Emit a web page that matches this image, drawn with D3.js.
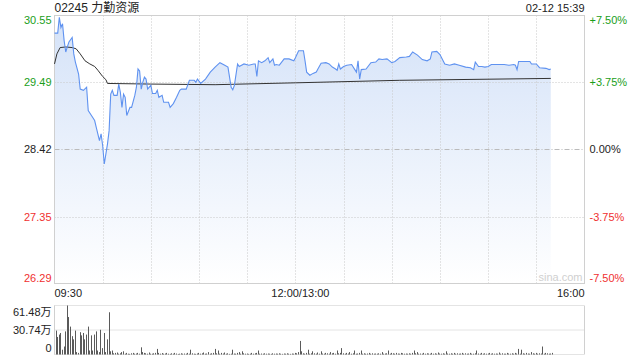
<!DOCTYPE html>
<html>
<head>
<meta charset="utf-8">
<script src="https://cdn.jsdelivr.net/npm/d3@7"></script>
<style>
  body { margin: 0; background: #fff; }
  svg { display: block; font-family: "Liberation Sans", Arial, "Noto Sans CJK SC", sans-serif; }
</style>
</head>
<body>
<div id="chart"></div>
<script>
const title = '02245 力勤资源';
const stamp = '02-12 15:39';
const prevClose = 28.42;
const priceTicks = [30.55, 29.49, 28.42, 27.35, 26.29];
const pctLabels = ['+7.50%', '+3.75%', '0.00%', '-3.75%', '-7.50%'];
const timeLabels = [[0, '09:30'], [150, '12:00/13:00'], [330, '16:00']];
const volTicks = [[61.48, '61.48万'], [30.74, '30.74万'], [0, '0']];

// [trading minute since 09:30, price]
const price = [
  [0, 30.27], [2, 30.27], [3, 30.52], [4, 30.36], [5, 30.42], [6, 30.15], [7, 29.97], [8, 30.05],
  [9, 30.13], [11, 30.20], [12, 29.94], [13, 29.81], [15, 29.62], [16, 29.38], [18, 29.36], [20, 29.41],
  [21, 29.04], [23, 28.96], [25, 28.88], [26, 28.77], [28, 28.56], [29, 28.67], [30, 28.48], [31, 28.19],
  [33, 28.51], [34, 28.72], [35, 29.30], [36, 29.36], [37, 29.28], [39, 29.28], [40, 29.46], [41, 29.33],
  [42, 29.09], [43, 29.30], [44, 29.25], [45, 28.96], [47, 29.09], [48, 29.09], [50, 29.28], [51, 29.41],
  [52, 29.70], [53, 29.67], [54, 29.38], [55, 29.49], [56, 29.57], [57, 29.54], [58, 29.38], [60, 29.44],
  [61, 29.31], [63, 29.31], [64, 29.36], [65, 29.25], [67, 29.28], [68, 29.17], [71, 29.17], [72, 29.09],
  [74, 29.15], [76, 29.25], [78, 29.36], [79, 29.38], [82, 29.38], [84, 29.52], [87, 29.52], [88, 29.49],
  [89, 29.54], [91, 29.47], [94, 29.54], [97, 29.65], [100, 29.73], [103, 29.80], [106, 29.76], [108, 29.73],
  [110, 29.41], [111, 29.37], [112, 29.44], [114, 29.78], [115, 29.74], [118, 29.78], [121, 29.76], [124, 29.78],
  [125, 29.78], [126, 29.58], [127, 29.83], [129, 29.80], [131, 29.83], [133, 29.88], [134, 29.80], [136, 29.86],
  [137, 29.76], [138, 29.77], [140, 29.76], [143, 29.86], [146, 29.86], [149, 29.83], [150, 29.88], [152, 29.99],
  [155, 29.99], [156, 29.83], [157, 29.65], [159, 29.60], [161, 29.63], [163, 29.65], [164, 29.70], [166, 29.79],
  [169, 29.80], [171, 29.78], [173, 29.73], [175, 29.70], [176, 29.68], [177, 29.78], [178, 29.70], [180, 29.74],
  [182, 29.76], [185, 29.77], [187, 29.69], [188, 29.65], [189, 29.83], [190, 29.54], [191, 29.69], [194, 29.70],
  [197, 29.80], [200, 29.81], [202, 29.86], [204, 29.85], [207, 29.86], [210, 29.80], [212, 29.82], [215, 29.88],
  [219, 29.89], [221, 29.90], [223, 29.97], [226, 29.92], [229, 29.85], [232, 29.83], [234, 29.86], [235, 29.97],
  [238, 29.98], [240, 29.93], [243, 29.78], [246, 29.76], [249, 29.78], [252, 29.76], [256, 29.73], [259, 29.72],
  [261, 29.69], [262, 29.81], [264, 29.74], [266, 29.74], [268, 29.73], [270, 29.74], [272, 29.77], [280, 29.77],
  [283, 29.76], [286, 29.77], [287, 29.76], [288, 29.69], [289, 29.82], [294, 29.82], [296, 29.82], [297, 29.78],
  [300, 29.78], [302, 29.72], [306, 29.71], [308, 29.69], [309, 29.70]
];

// average price line
const avgPrice = [
  [0, 29.78], [1.5, 29.94], [3.5, 30.04], [7, 30.05], [11, 30.04], [13.5, 30.02], [16, 29.94], [19, 29.83],
  [22, 29.78], [25, 29.74], [27, 29.68], [30, 29.58], [32, 29.53], [33, 29.47], [60, 29.46], [100, 29.45],
  [150, 29.48], [215, 29.52], [309, 29.55]
];

// volume per minute, 万
const volume = [
  30, 22, 25, 27, 6, 10, 29, 61.48, 47, 35,
  23, 19, 30, 3, 2, 28, 24, 27, 19, 25,
  35, 5, 24, 5, 25, 29, 5, 3, 31, 8,
  27, 3, 19, 53, 4, 5, 1.5, 2, 2.5, 1,
  1.5, 3, 4, 1, 2, 1, 0.8, 1.5, 2, 1,
  1.2, 2, 1, 9, 3, 2, 1.5, 1, 2.5, 1,
  1, 1.5, 2, 7, 2, 1, 1.8, 1, 1.2, 2,
  1, 0.8, 1.5, 1, 2, 1.2, 0.7, 1, 1.5, 1,
  1.2, 1, 2, 1, 6, 1.5, 1, 0.8, 1.2, 2,
  1, 1.5, 2.5, 1, 1.2, 3, 1, 1.5, 2, 7,
  1.5, 5, 1, 2, 1.2, 2.5, 1, 1.5, 0.8, 1,
  6, 1.2, 1, 2, 3, 1, 4, 1.5, 1, 1.2,
  0.8, 1, 2, 1, 1.5, 2, 5, 1, 1.2, 1,
  1.5, 1, 1.2, 1, 0.8, 1.5, 1, 1.2, 1, 1.5,
  1, 0.8, 1.2, 1, 1.5, 1, 0.8, 1.2, 1, 2,
  1.5, 3, 17, 4, 1.5, 1, 2, 6, 1, 1.5,
  4, 1.5, 1, 2.5, 1, 4, 1.2, 1, 2, 1.5,
  1, 3, 1.5, 2, 1, 5, 1.5, 2, 8, 1.5,
  1, 2, 1.2, 3, 1, 1.5, 5, 1, 1.2, 2,
  5, 1, 1.5, 1, 1.2, 2, 1, 1.5, 1, 1.2,
  1, 1.5, 1, 3, 1, 1.2, 1.5, 5, 1, 2,
  1.5, 1, 2, 1.2, 1, 2, 1.5, 1, 1.2, 1,
  1.5, 1, 2, 5, 1.5, 3, 1, 1.2, 1, 2,
  1, 1.5, 1.2, 1, 2, 1, 1.5, 1, 2.5, 1.2,
  1, 1.5, 1, 4, 1.2, 1, 1.5, 1, 2, 1,
  1.5, 1, 1.2, 2, 1, 1.5, 1, 1.2, 2, 1,
  1, 1.5, 5, 1.2, 1, 2, 1, 1.5, 1, 1.2,
  2, 1, 1.5, 1, 1.2, 1, 2.5, 1, 1.5, 1,
  1, 2, 1.2, 1, 1.5, 1, 2, 1.2, 7, 1,
  6, 1.5, 1, 2, 1.2, 1, 3, 1.5, 1, 2,
  1, 1.5, 1.2, 10, 1, 2, 1.5, 1, 1.2, 2
];

const W = 640, H = 360;
const left = 54.5, right = 584.5;
const pTop = 15.5, pBot = 283.5;
const vTop = 305.5, vBot = 354.5;
const green = '#1a9e1a', red = '#f03030', grid = '#c8c8c8';

const svg = d3.select('#chart').append('svg')
  .attr('width', W)
  .attr('height', H);

const x = d3.scaleLinear().domain([0, 330]).range([left, right]);
const y = d3.scaleLinear().domain([26.29, 30.55]).range([pBot, pTop]);
const yv = d3.scaleLinear().domain([0, 61.48]).range([vBot, vTop]);

const colorFor = v => v > prevClose + 1e-6 ? green : (v < prevClose - 1e-6 ? red : '#222');

// gradient fill under price
const grad = svg.append('defs').append('linearGradient')
  .attr('id', 'fill')
  .attr('gradientUnits', 'userSpaceOnUse')
  .attr('x1', 0).attr('y1', pTop).attr('x2', 0).attr('y2', pBot);
grad.append('stop').attr('offset', 0).attr('stop-color', '#d4e2f8');
grad.append('stop').attr('offset', 1).attr('stop-color', '#ffffff');

svg.append('path')
  .datum(price)
  .attr('fill', 'url(#fill)')
  .attr('d', d3.area().x(d => x(d[0])).y0(pBot).y1(d => y(d[1])));

// horizontal grid
svg.append('g')
  .selectAll('line')
  .data(priceTicks.slice(1, -1))
  .join('line')
  .attr('x1', left).attr('x2', right)
  .attr('y1', d => Math.round(y(d)) + 0.5).attr('y2', d => Math.round(y(d)) + 0.5)
  .attr('stroke', d => d === prevClose ? '#bbb' : grid)
  .attr('stroke-dasharray', d => d === prevClose ? '5,2,1,2' : '1,2');

// vertical grid, every 30 min
const vgrid = d3.range(30, 330, 30);
svg.append('g')
  .selectAll('line')
  .data(vgrid)
  .join('line')
  .attr('x1', d => Math.round(x(d)) + 0.5).attr('x2', d => Math.round(x(d)) + 0.5)
  .attr('y1', pTop).attr('y2', pBot)
  .attr('stroke', grid)
  .attr('stroke-dasharray', '1,2');

// price frame
svg.append('rect')
  .attr('x', left).attr('y', pTop)
  .attr('width', right - left).attr('height', pBot - pTop)
  .attr('fill', 'none')
  .attr('stroke', '#d0d0d0');

svg.append('text')
  .attr('x', right - 2).attr('y', pBot - 3)
  .attr('text-anchor', 'end')
  .attr('fill', '#d0d0d0')
  .style('font-size', '11px')
  .text('sina.com');

// average line
svg.append('path')
  .datum(avgPrice)
  .attr('fill', 'none')
  .attr('stroke', '#333')
  .attr('stroke-width', 1)
  .attr('d', d3.line().x(d => x(d[0])).y(d => y(d[1])));

// price line
svg.append('path')
  .datum(price)
  .attr('fill', 'none')
  .attr('stroke', '#5f92f0')
  .attr('stroke-width', 1.1)
  .attr('d', d3.line().x(d => x(d[0])).y(d => y(d[1])));

// left price labels
const clampY = v => Math.min(Math.max(y(v), pTop + 5), pBot - 5);
svg.append('g')
  .selectAll('text')
  .data(priceTicks)
  .join('text')
  .attr('x', left - 3)
  .attr('y', d => clampY(d))
  .attr('dy', '0.35em')
  .attr('text-anchor', 'end')
  .attr('fill', d => colorFor(d))
  .style('font-size', '11px')
  .text(d => d.toFixed(2));

// right pct labels
svg.append('g')
  .selectAll('text')
  .data(priceTicks)
  .join('text')
  .attr('x', right + 5)
  .attr('y', d => clampY(d))
  .attr('dy', '0.35em')
  .attr('fill', d => colorFor(d))
  .style('font-size', '11px')
  .text((d, i) => pctLabels[i]);

// header
svg.append('text')
  .attr('x', left).attr('y', 12)
  .attr('fill', '#222')
  .style('font-size', '12px')
  .text(title);
svg.append('text')
  .attr('x', right).attr('y', 12)
  .attr('text-anchor', 'end')
  .attr('fill', '#222')
  .style('font-size', '11px')
  .text(stamp);

// time labels
svg.append('g')
  .selectAll('text')
  .data(timeLabels)
  .join('text')
  .attr('x', (d, i) => i === 1 ? x(d[0]) + 5 : x(d[0]))
  .attr('y', 297)
  .attr('text-anchor', (d, i) => ['start', 'middle', 'end'][i])
  .attr('fill', '#222')
  .style('font-size', '11px')
  .text(d => d[1]);

// volume panel
svg.append('g')
  .selectAll('line')
  .data([61.48, 30.74, 0])
  .join('line')
  .attr('x1', left).attr('x2', right)
  .attr('y1', d => yv(d)).attr('y2', d => yv(d))
  .attr('stroke', grid)
  .attr('stroke-dasharray', '1,1');

svg.append('line')
  .attr('x1', left).attr('x2', left)
  .attr('y1', vTop).attr('y2', vBot)
  .attr('stroke', '#d0d0d0');
svg.append('line')
  .attr('x1', right).attr('x2', right)
  .attr('y1', vTop).attr('y2', vBot)
  .attr('stroke', '#d0d0d0');

svg.append('g')
  .selectAll('line')
  .data(volume)
  .join('line')
  .attr('x1', (d, i) => Math.round(x(i)) + 1.5)
  .attr('x2', (d, i) => Math.round(x(i)) + 1.5)
  .attr('y1', vBot)
  .attr('y2', d => yv(d))
  .attr('stroke', '#5a5a5a')
  .attr('stroke-width', 1);

svg.append('g')
  .selectAll('text')
  .data(volTicks)
  .join('text')
  .attr('x', left - 3)
  .attr('y', d => Math.min(Math.max(yv(d[0]), vTop + 7), vBot - 6))
  .attr('dy', '0.35em')
  .attr('text-anchor', 'end')
  .attr('fill', '#222')
  .style('font-size', '11px')
  .text(d => d[1]);
</script>
</body>
</html>
